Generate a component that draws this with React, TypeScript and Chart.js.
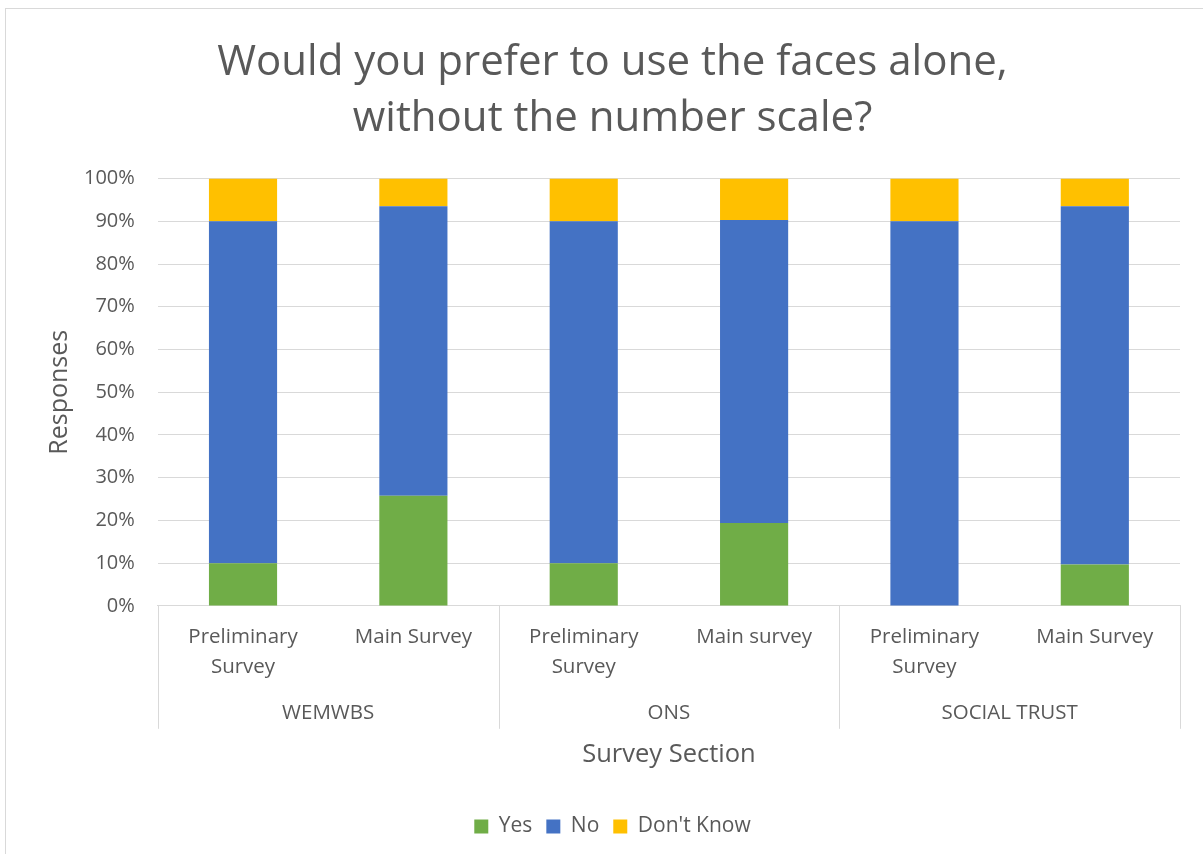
import React, { useEffect, useRef } from "react";
import { Chart, registerables } from "chart.js";

Chart.register(...registerables);

const subCategories: string[][] = [
  ["Preliminary", "Survey"],
  ["Main Survey"],
  ["Preliminary", "Survey"],
  ["Main survey"],
  ["Preliminary", "Survey"],
  ["Main Survey"],
];
const groups = ["WEMWBS", "ONS", "SOCIAL TRUST"];
const yesValues = [10, 25.8, 10, 19.4, 0, 9.7];
const noValues = [80, 67.7, 80, 70.9, 90, 83.8];
const dontKnowValues = [10, 6.5, 10, 9.7, 10, 6.5];
const titleLines = ["Would you prefer to use the faces alone,", "without the number scale?"];

const FONT = "'Open Sans', sans-serif";
const TEXT = "#595959";
const GRID = "#d9d9d9";

const separatorPlugin = {
  id: "groupSeparators",
  afterDraw(chart: any) {
    const x = chart.scales.x;
    const x2 = chart.scales.x2;
    const ctx = chart.ctx;
    ctx.save();
    ctx.strokeStyle = GRID;
    ctx.lineWidth = 1;
    const top = x.top;
    const bottom = x2.top + 31;
    for (let i = 0; i <= subCategories.length; i += 2) {
      const px = Math.round(x.getPixelForValue(i - 0.5)) + 0.5;
      ctx.beginPath();
      ctx.moveTo(px, top);
      ctx.lineTo(px, bottom);
      ctx.stroke();
    }
    ctx.restore();
  },
};

export default function App() {
  const ref = useRef<HTMLCanvasElement>(null);
  useEffect(() => {
    if (!ref.current) return;
    const chart = new Chart(ref.current, {
      type: "bar",
      data: {
        labels: subCategories as any,
        datasets: [
          { label: "Yes", data: yesValues, backgroundColor: "#70ad47", xAxisID: "x" },
          { label: "No", data: noValues, backgroundColor: "#4472c4", xAxisID: "x" },
          { label: "Don't Know", data: dontKnowValues, backgroundColor: "#ffc000", xAxisID: "x" },
        ],
      },
      options: {
        animation: false,
        responsive: false,
        maintainAspectRatio: false,
        datasets: { bar: { categoryPercentage: 1, barPercentage: 0.4 } } as any,
        layout: { padding: { left: 39, right: 24, top: 10, bottom: 10 } },
        plugins: {
          title: {
            display: true,
            text: titleLines,
            color: TEXT,
            font: { family: FONT, size: 42, weight: "normal", lineHeight: 1.34 },
            padding: { top: 16, bottom: 31 },
          },
          legend: {
            position: "bottom",
            labels: {
              color: TEXT,
              font: { family: FONT, size: 21 },
              boxWidth: 14,
              boxHeight: 14,
              padding: 14,
            },
          },
          tooltip: { enabled: false },
        },
        scales: {
          x: {
            type: "category",
            stacked: true,
            position: "bottom",
            grid: { display: false, drawTicks: false },
            border: { display: true, color: GRID, width: 1 },
            ticks: {
              color: TEXT,
              font: { family: FONT, size: 20.5, lineHeight: 1.46 },
              padding: 16,
              maxRotation: 0,
              autoSkip: false,
            },
          },
          x2: {
            type: "category",
            position: "bottom",
            labels: groups,
            grid: { display: false, drawTicks: false },
            border: { display: false },
            ticks: {
              color: TEXT,
              font: { family: FONT, size: 20.5 },
              padding: 3,
            },
            title: {
              display: true,
              text: "Survey Section",
              color: TEXT,
              font: { family: FONT, size: 25.5 },
              padding: { top: 11, bottom: 32 },
            },
          },
          y: {
            stacked: true,
            min: 0,
            max: 100,
            grid: { color: GRID, drawTicks: false },
            border: { display: false },
            ticks: {
              stepSize: 10,
              color: TEXT,
              font: { family: FONT, size: 20 },
              padding: 23,
              callback: (v: any) => v + "%",
            },
            title: {
              display: true,
              text: "Responses",
              color: TEXT,
              font: { family: FONT, size: 25 },
              padding: { top: 0, bottom: -14 },
            },
          },
        },
      },
      plugins: [separatorPlugin],
    });
    return () => chart.destroy();
  }, []);
  return (
    <div
      style={{
        position: "absolute",
        left: 5,
        top: 8,
        width: 1200,
        height: 850,
        border: "1px solid #d9d9d9",
        background: "#fff",
        boxSizing: "border-box",
      }}
    >
      <canvas ref={ref} width={1198} height={848} />
    </div>
  );
}
